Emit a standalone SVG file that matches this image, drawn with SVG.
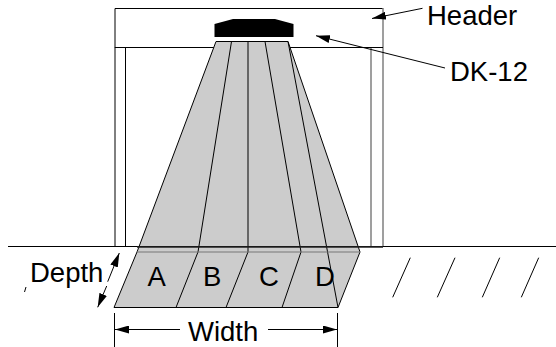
<svg xmlns="http://www.w3.org/2000/svg" width="556" height="347" viewBox="0 0 556 347">
<style>
.l{fill:none;stroke:#000;stroke-width:1}
.g{fill:none;stroke:#808080;stroke-width:1.5}
.a{fill:none;stroke:#000;stroke-width:1;marker-end:url(#h)}
text{font-family:"Liberation Sans",Arial,sans-serif;font-size:27.500px;fill:#000}
</style>
<defs><marker id="h" markerUnits="userSpaceOnUse" markerWidth="14" markerHeight="8" refX="14" refY="4" orient="auto"><path d="M0 0L14 4L0 8Z" fill="#000"/></marker></defs>
<rect width="556" height="347" fill="#fff"/>
<g id="header">
<path class="l" d="M115 47.5V8.500H383"/>
<path class="g" d="M383 8V247M371 47V247"/>
<path class="l" d="M115 47.500H383M125.500 47V247M115 47V247"/>
</g>
<g id="dk12"><path d="M214.500 24L233 19H275L293.500 24V37H214.500Z" fill="#000"/></g>
<g id="beam">
<path d="M216 41.500H288L360 252L338 307.500H114L137 252Z" fill="#ccc"/>
<path class="l" d="M216 41.500H288L360 252L338 307.500H114L137 252Z"/>
<path class="l" d="M231.500 41.500L198 252L176 307.500M248 41.500V252L226 307.500M265 41.500L301 252L282 307.500M288 41.500L338 307.500"/>
<path fill="none" stroke="#777" d="M137 252H360"/>
</g>
<g id="floor">
<path class="l" d="M8 246.500H556"/>
<path fill="none" stroke="#222" stroke-width="1.500" d="M137 247H383"/>
<path class="l" d="M410.300 257.700L392.700 297.300M455 257.700L437.300 297.300M499.700 257.700L482.300 297.300M538.700 257.700L521.300 297.300"/>
<path class="l" stroke-width=".6" d="M26 287L24.500 292"/>
</g>
<g id="connectors">
<path class="a" d="M107.700 281.700L119.300 253"/>
<path class="a" d="M106.700 286L97.700 307.300"/>
<path class="a" d="M180 329.500H115"/>
<path class="a" d="M268 329.500H337"/>
<path class="l" d="M114.500 313V347M337.500 313V347"/>
<path class="a" d="M422.500 8.300L372 18.500"/>
<path class="a" d="M445 68L316 35.700"/>
</g>
<g id="labels">
<text x="427" y="25">Header</text>
<text x="450" y="80.500">DK-12</text>
<text x="30" y="282">Depth</text>
<text x="147.500" y="285.700">A</text>
<text x="203" y="285.700">B</text>
<text x="259" y="285.700">C</text>
<text x="315" y="285.700">D</text>
<text x="188" y="340.500">Width</text>
</g>
</svg>
